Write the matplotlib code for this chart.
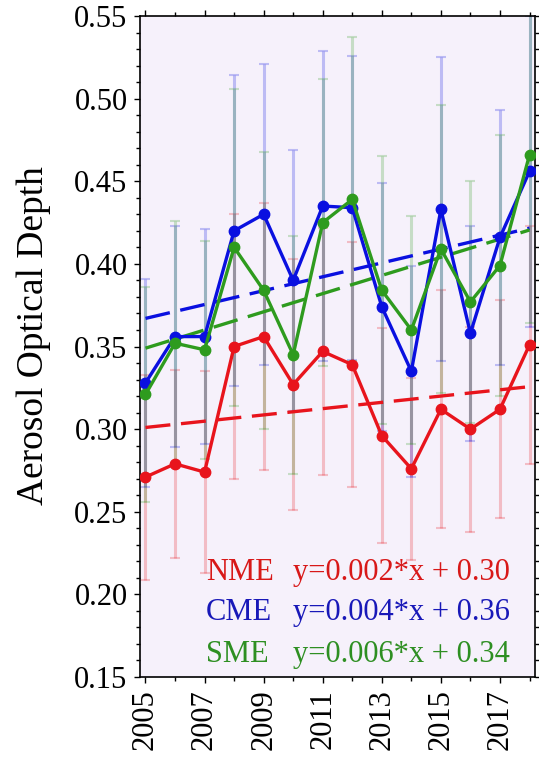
import numpy as np
import matplotlib
matplotlib.use('Agg')
import matplotlib.pyplot as plt
from matplotlib.ticker import MultipleLocator, FormatStrFormatter

# ---------------- data ----------------
years = [2005, 2006, 2007, 2008, 2009, 2010, 2011, 2012, 2013, 2014, 2015, 2016, 2017, 2018]

nme = [0.271, 0.279, 0.274, 0.350, 0.356, 0.327, 0.347, 0.339, 0.296, 0.276, 0.312, 0.300, 0.312, 0.351]
nme_err = [0.062, 0.057, 0.061, 0.080, 0.081, 0.076, 0.075, 0.074, 0.065, 0.055, 0.072, 0.062, 0.066, 0.072]

cme = [0.328, 0.356, 0.356, 0.420, 0.430, 0.390, 0.435, 0.434, 0.374, 0.335, 0.433, 0.358, 0.416, 0.456]
cme_err = [0.063, 0.067, 0.065, 0.094, 0.091, 0.079, 0.094, 0.092, 0.075, 0.064, 0.092, 0.065, 0.077, 0.094]

sme = [0.321, 0.352, 0.348, 0.410, 0.384, 0.345, 0.425, 0.439, 0.384, 0.360, 0.409, 0.377, 0.399, 0.466]
sme_err = [0.065, 0.074, 0.066, 0.096, 0.084, 0.072, 0.087, 0.098, 0.081, 0.069, 0.087, 0.073, 0.079, 0.102]

# trend lines: [slope per year, value at first year]
nme_trend = [0.0019, 0.301]
cme_trend = [0.0042, 0.367]
sme_trend = [0.0055, 0.349]

region_names = ["NME", "CME", "SME"]
equations = ["y=0.002*x + 0.30", "y=0.004*x + 0.36", "y=0.006*x + 0.34"]

y_ticks = [0.15, 0.20, 0.25, 0.30, 0.35, 0.40, 0.45, 0.50, 0.55]
x_tick_labels = [2005, 2007, 2009, 2011, 2013, 2015, 2017]

# ---------------- style ----------------
plt.rcParams['font.family'] = ['Liberation Serif', 'DejaVu Serif']

line_colors = ['#e8141c', '#0a10e0', '#2e9b1e']
text_colors = ['#d81818', '#1818b8', '#2e8f22']

fig = plt.figure(figsize=(5.39, 7.58), dpi=100)
ax = fig.add_axes([140 / 539, 1 - 677 / 758, (535 - 140) / 539, (677 - 16) / 758])
ax.set_facecolor('#f6f1fb')

series = [(nme, nme_err, nme_trend), (cme, cme_err, cme_trend), (sme, sme_err, sme_trend)]
x = np.array(years, dtype=float)

# error bars
for (vals, errs, _), col in zip(series, line_colors):
    ax.errorbar(x, vals, yerr=errs, fmt='none', ecolor=col, alpha=0.24,
                elinewidth=2.2, capsize=3.5, capthick=1.5, zorder=1)

# solid lines with markers
for (vals, errs, _), col in zip(series, line_colors):
    ax.plot(x, vals, '-o', color=col, lw=2.4, markersize=7.5, zorder=3)

# dashed trend lines
for (vals, errs, tr), col in zip(series, line_colors):
    idx = x - x[0]
    ax.plot(x, tr[1] + tr[0] * idx, color=col, lw=2.4, dashes=(7.5, 3.2), zorder=2)

# axes
ax.set_xlim(2005 - 0.186, 2018 + 0.186)
ax.set_ylim(0.15, 0.55)
ax.set_yticks(y_ticks)
ax.yaxis.set_major_formatter(FormatStrFormatter('%.2f'))
ax.yaxis.set_minor_locator(MultipleLocator(0.01))
ax.set_xticks(x_tick_labels)
ax.set_xticklabels([str(v) for v in x_tick_labels], rotation=90)
ax.xaxis.set_minor_locator(MultipleLocator(1))

ax.tick_params(axis='both', which='both', direction='out', top=True, right=True,
               labelsize=22, width=1.0, colors='black')
ax.tick_params(axis='both', which='major', length=4, pad=5)
ax.tick_params(axis='both', which='minor', length=3)
for sp in ax.spines.values():
    sp.set_linewidth(1.2)

ax.set_ylabel('Aerosol Optical Depth', fontsize=27)
ax.yaxis.set_label_coords(-0.225, 0.516)

# legend-like text
rows_y = [0.147, 0.086, 0.022]
for name, eq, col, yy in zip(region_names, equations, text_colors, rows_y):
    ax.text(0.167, yy, name, color=col, fontsize=22, transform=ax.transAxes,
            ha='left', va='baseline', zorder=5)
    ax.text(0.388, yy, eq, color=col, fontsize=22, transform=ax.transAxes,
            ha='left', va='baseline', zorder=5)

fig.savefig('out.png', dpi=100)
